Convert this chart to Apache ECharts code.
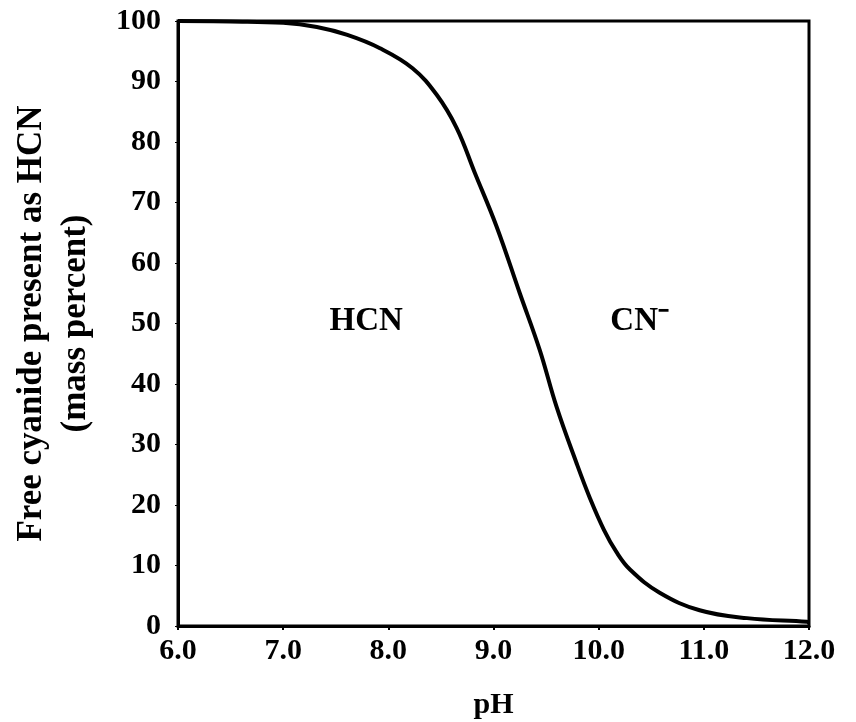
<!DOCTYPE html>
<html>
<head>
<meta charset="utf-8">
<script src="https://cdn.jsdelivr.net/npm/echarts@6/dist/echarts.min.js"></script>
<style>html,body{margin:0;padding:0;background:#fff;}#c{width:856px;height:722px;}</style>
</head>
<body>
<div id="c"></div>
<script>
// pH values (x) and HCN mass percent (y)
var phValues = [6.0, 6.5, 7.0, 7.32, 7.61, 7.92, 8.23, 8.46, 8.65, 8.82, 9.03, 9.25, 9.44, 9.60, 9.79, 9.92, 10.05, 10.17, 10.30, 10.58, 10.96, 11.41, 11.98, 12.0];
var hcnPercent = [100, 99.9, 99.7, 99.0, 97.7, 95.5, 92.2, 87.8, 82.3, 75.0, 66.0, 55.0, 45.6, 36.2, 26.9, 21.0, 15.9, 12.2, 9.3, 5.5, 2.6, 1.3, 0.7, 0.6];
var regionLabels = ['HCN', 'CN\u207B'];
var regionLabelX = [7.79, 10.39];
var regionLabelY = [50.3, 50.3];
var xTickLabels = ['6.0','7.0','8.0','9.0','10.0','11.0','12.0'];

var curve = phValues.map(function (p, i) { return [p, hcnPercent[i]]; });
var labelPts = regionLabels.map(function (t, i) { return { value: [regionLabelX[i], regionLabelY[i]], name: t }; });

var serif = 'Liberation Serif';
var chart = echarts.init(document.getElementById('c'));
chart.setOption({
  animation: false,
  backgroundColor: '#fff',
  grid: { left: 178, right: 47, top: 21, bottom: 96, containLabel: false, outerBoundsMode: 'none',
    show: true, borderColor: '#000', borderWidth: 3, backgroundColor: 'transparent' },
  xAxis: {
    type: 'value', min: 6, max: 12, interval: 1,
    name: 'pH', nameLocation: 'middle', nameGap: 64,
    nameTextStyle: { fontFamily: serif, fontWeight: 'bold', fontSize: 30, color: '#000' },
    axisLine: { show: true, lineStyle: { color: '#000', width: 3 } },
    axisTick: { show: true, length: 4, lineStyle: { color: '#000', width: 2 } },
    splitLine: { show: false },
    axisLabel: { margin: 10, fontFamily: serif, fontWeight: 'bold', fontSize: 30, color: '#000',
      formatter: function (v) { return xTickLabels[Math.round(v - 6)]; } }
  },
  yAxis: {
    type: 'value', min: 0, max: 100, interval: 10,
    name: 'Free cyanide present as HCN\n(mass percent)', nameLocation: 'middle', nameGap: 80, nameRotate: 90,
    nameTextStyle: { fontFamily: serif, fontWeight: 'bold', fontSize: 35, color: '#000', lineHeight: 44 },
    axisLine: { show: true, lineStyle: { color: '#000', width: 3 } },
    axisTick: { show: true, length: 3, lineStyle: { color: '#000', width: 1 } },
    splitLine: { show: false },
    axisLabel: { margin: 17, fontFamily: serif, fontWeight: 'bold', fontSize: 30, color: '#000' }
  },
  series: [
    {
      type: 'line', data: curve, smooth: 0.4, showSymbol: false, symbol: 'none',
      lineStyle: { color: '#000', width: 4 }
    },
    {
      type: 'scatter', data: labelPts, symbolSize: 0, itemStyle: { opacity: 1 },
      label: { show: true, position: 'inside', formatter: function (p) { return p.name; },
        fontFamily: serif, fontWeight: 'bold', fontSize: 33, color: '#000', textBorderWidth: 0 }
    }
  ]
});
</script>
</body>
</html>
